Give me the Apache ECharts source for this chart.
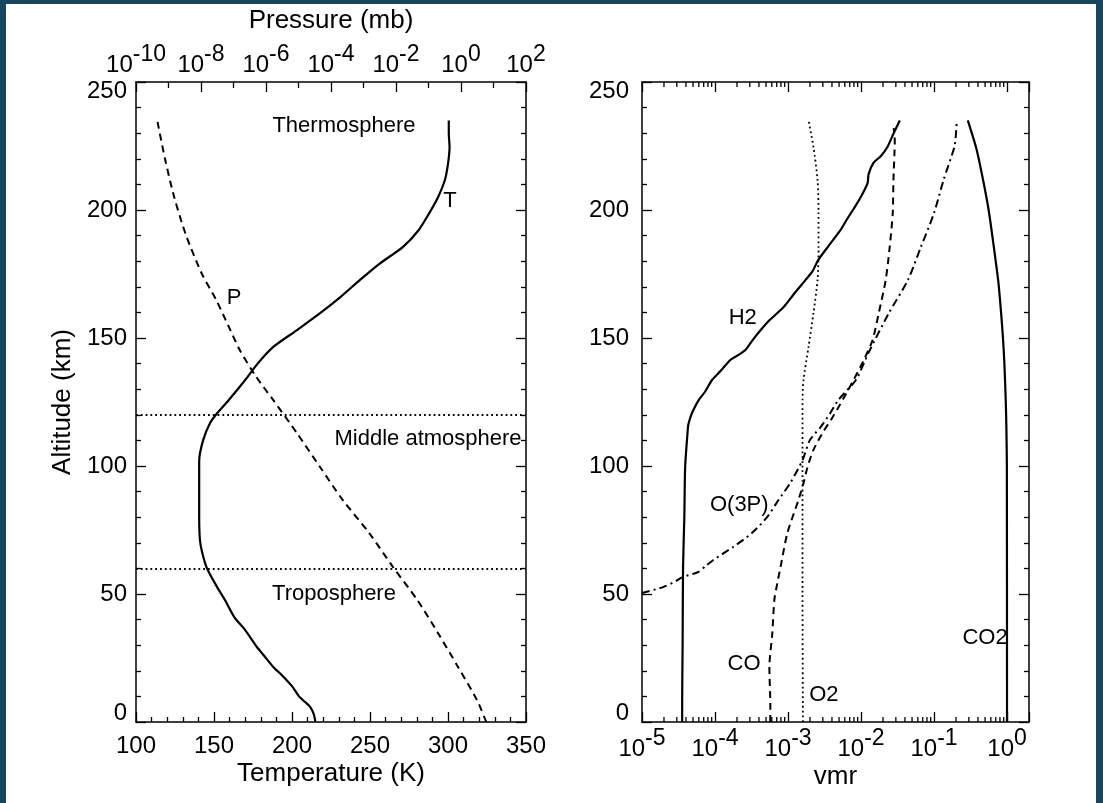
<!DOCTYPE html>
<html>
<head>
<meta charset="utf-8">
<script src="https://cdn.jsdelivr.net/npm/echarts@6/dist/echarts.min.js"></script>
<style>
html,body{margin:0;padding:0;width:1103px;height:803px;overflow:hidden;background:#17475e}
#paper{position:absolute;left:6px;top:4px;width:1090px;height:799px;background:#ffffff}
#chart{position:absolute;left:0;top:0;width:1103px;height:803px}
</style>
</head>
<body>
<div id="paper"></div>
<div id="chart"></div>
<script>
// ---------------- DATA ----------------
// Left panel: temperature profile (K) vs altitude (km)
const tempAlt = [0, 3, 6, 8, 10, 14, 18, 21.5, 26, 29.3, 35.9, 41, 47.7, 52.7, 60, 66, 71, 80, 90, 102, 110, 116.7, 120.6, 125.8, 133.6, 140, 146.5, 153, 159.7, 166, 172.7, 179, 185.5, 192, 198.8, 205, 211.7, 218, 224.6, 230, 235];
const tempK   = [215, 214, 211.5, 208, 204.5, 200, 194, 188, 182, 177.5, 170, 163, 157, 152, 145.5, 142.5, 141, 140.5, 140.5, 140.5, 143, 147.4, 152, 159.5, 170, 178, 188, 203, 218, 231, 243.6, 256, 271, 281, 288, 293.6, 298, 300, 301, 300.5, 300.5];

// Left panel: pressure profile (mb) vs altitude (km)
const pressAlt = [0, 8.6, 21.5, 34.8, 47.7, 60.5, 73.8, 86.7, 99.6, 112.9, 125.8, 135, 145, 155, 165, 175, 190, 205, 220, 235];
const pressMb  = [6.0, 3.1, 0.81, 0.195, 0.045, 8.1e-3, 1.5e-3, 2.3e-4, 4.6e-5, 8.9e-6, 1.66e-6, 4.9e-7, 1.6e-7, 6.8e-8, 2.9e-8, 1.07e-8, 3.5e-9, 1.5e-9, 7.8e-10, 4.5e-10];

// Atmospheric layer boundaries (km)
const layerBounds = [60, 120];

// Right panel: volume mixing ratios vs altitude (km)
const h2Alt = [0, 8.6, 30, 60.5, 80, 99.6, 112.9, 116, 119, 121.6, 125.8, 129, 133.6, 137, 141.4, 143, 145.3, 149, 153, 157, 162, 167, 172.7, 176, 180.5, 186, 192, 196, 200.4, 205, 210.5, 214, 218.4, 221, 224.6, 230, 235];
const h2Vmr = [3.55e-5, 3.55e-5, 3.6e-5, 3.65e-5, 3.8e-5, 3.9e-5, 4.2e-5, 4.3e-5, 4.6e-5, 5.0e-5, 6.0e-5, 7.3e-5, 9.1e-5, 1.18e-4, 1.62e-4, 2.0e-4, 2.6e-4, 3.24e-4, 4.2e-4, 5.6e-4, 8.65e-4, 1.19e-3, 1.74e-3, 2.16e-3, 2.6e-3, 3.6e-3, 5.2e-3, 6.3e-3, 7.9e-3, 9.9e-3, 1.23e-2, 1.27e-2, 1.48e-2, 1.86e-2, 2.3e-2, 2.8e-2, 3.4e-2];

const co2Alt = [0, 100, 115, 125.8, 140, 150, 159.7, 172, 185.5, 200, 211.7, 224, 235];
const co2Vmr = [1.0, 0.995, 0.98, 0.96, 0.92, 0.88, 0.83, 0.76, 0.66, 0.56, 0.47, 0.38, 0.29];

const o2Alt = [0, 50, 100, 125.8, 133.6, 146.5, 159.7, 172.7, 185.5, 198.8, 211.7, 224.6, 235];
const o2Vmr = [1.6e-3, 1.58e-3, 1.58e-3, 1.58e-3, 1.63e-3, 1.91e-3, 2.23e-3, 2.54e-3, 2.62e-3, 2.62e-3, 2.54e-3, 2.23e-3, 1.91e-3];

const coAlt = [0, 5.9, 21.5, 34.8, 47.7, 54.3, 60.5, 73.8, 86.7, 93.3, 99.6, 106.3, 112.9, 119, 125.8, 133.6, 141.4, 149.2, 159.7, 172.7, 185.5, 198.8, 211.7, 227.3, 232];
const coVmr = [5.7e-4, 5.73e-4, 5.56e-4, 6.1e-4, 6.5e-4, 7.15e-4, 7.9e-4, 9.8e-4, 1.39e-3, 1.63e-3, 1.85e-3, 2.23e-3, 2.97e-3, 4.07e-3, 5.6e-3, 7.9e-3, 1.09e-2, 1.44e-2, 1.75e-2, 2.18e-2, 2.47e-2, 2.72e-2, 2.78e-2, 2.9e-2, 2.8e-2];

const o3pAlt = [50.4, 52.7, 55, 56.6, 58.6, 61, 63.3, 68.4, 73.8, 80.1, 86.7, 93.3, 102.3, 110.2, 115.2, 120.7, 125.8, 133.6, 144.1, 159.7, 172.7, 185.5, 198.8, 211.7, 224.6, 230, 235];
const o3pVmr = [1.0e-5, 1.95e-5, 2.9e-5, 3.6e-5, 5.9e-5, 7.5e-5, 9.5e-5, 1.78e-4, 3.2e-4, 5.2e-4, 7.4e-4, 1.07e-3, 1.58e-3, 2.0e-3, 2.8e-3, 3.8e-3, 4.9e-3, 8.5e-3, 1.26e-2, 2.4e-2, 4.4e-2, 6.6e-2, 0.1, 0.135, 0.19, 0.2, 0.205];

// Axis ranges / ticks
const altRange = [0, 250];
const tempRange = [100, 350];
const pressRange = [1e-10, 1e2];
const vmrRange = [1e-5, 2];
const pressOddDecades = [1e-9, 1e-7, 1e-5, 1e-3, 1e-1, 1e1];
const vmrMinorTicks = [];
for (let e = -5; e <= -1; e++) for (let m = 2; m <= 9; m++) vmrMinorTicks.push(m * Math.pow(10, e));

// ---------------- CHART ----------------
const FONT = '"Liberation Sans", Arial, Helvetica, sans-serif';
const zip = (xs, ys) => xs.map((x, i) => [x, ys[i]]);

function pow10Label(v) {
  const e = Math.log10(v);
  const n = Math.round(e);
  if (Math.abs(e - n) > 1e-6) return '';
  return '{b|10}{s|' + n + '}';
}
const richSup = {
  b: { fontSize: 24, lineHeight: 26, verticalAlign: 'bottom', fontFamily: FONT, color: '#000' },
  s: { fontSize: 23, lineHeight: 20, padding: [0, 0, 11, 0], verticalAlign: 'bottom', fontFamily: FONT, color: '#000' }
};

const axLine = { show: true, onZero: false, lineStyle: { color: '#000', width: 1.5 } };
const tickMajor = { show: true, inside: true, length: 10, lineStyle: { color: '#000', width: 1.3 } };
const minor5 = { show: true, splitNumber: 5, length: 5, lineStyle: { color: '#000', width: 1.3 } };
const noSplit = { show: false };
const labelStyle = { fontSize: 24, color: '#000', fontFamily: FONT };
const nameStyle = { fontSize: 26, color: '#000', fontFamily: FONT };
const annStyle = { fontSize: 22, color: '#000', fontFamily: FONT };
const yLabelStyle = Object.assign({ lineHeight: 18, verticalAlignMinLabel: 'bottom', verticalAlignMaxLabel: 'top' }, labelStyle);

function annotations(items) {
  return {
    silent: true,
    symbol: 'circle',
    symbolSize: 1,
    itemStyle: { color: 'rgba(0,0,0,0)' },
    label: Object.assign({ show: true, position: 'inside', formatter: '{b}' }, annStyle),
    data: items.map(it => ({ name: it[0], coord: [it[1], it[2]] }))
  };
}

function tickRenderer(sides, len) {
  return function (params, api) {
    const v = api.value(0);
    const children = [];
    if (sides.indexOf('bottom') >= 0) {
      const p = api.coord([v, altRange[0]]);
      children.push({ type: 'line', shape: { x1: p[0], y1: p[1], x2: p[0], y2: p[1] - len }, style: { stroke: '#000', lineWidth: 1.3 } });
    }
    if (sides.indexOf('top') >= 0) {
      const p = api.coord([v, altRange[1]]);
      children.push({ type: 'line', shape: { x1: p[0], y1: p[1], x2: p[0], y2: p[1] + len }, style: { stroke: '#000', lineWidth: 1.3 } });
    }
    return { type: 'group', children: children };
  };
}

function lineSeries(name, xi, yi, data, type, width) {
  return {
    name: name, type: 'line', xAxisIndex: xi, yAxisIndex: yi,
    data: data, showSymbol: false, symbol: 'none', smooth: 0.25,
    clip: true, silent: true,
    lineStyle: { color: '#000', width: width, type: type }
  };
}

const chart = echarts.init(document.getElementById('chart'), null, { renderer: 'canvas' });

const option = {
  animation: false,
  backgroundColor: 'transparent',
  textStyle: { fontFamily: FONT },
  grid: [
    { left: 136, top: 82, width: 390, height: 640, containLabel: false, outerBoundsMode: 'none' },
    { left: 642, top: 82, width: 387, height: 640, containLabel: false, outerBoundsMode: 'none' }
  ],
  xAxis: [
    {
      gridIndex: 0, type: 'value', position: 'bottom', min: tempRange[0], max: tempRange[1], interval: 50,
      axisLine: axLine, axisTick: tickMajor, minorTick: minor5, splitLine: noSplit, minorSplitLine: noSplit,
      axisLabel: Object.assign({ margin: 12 }, labelStyle),
      name: 'Temperature (K)', nameLocation: 'middle', nameGap: 39, nameTextStyle: nameStyle, nameMoveOverlap: false
    },
    {
      gridIndex: 0, type: 'log', logBase: 10, position: 'top', min: pressRange[0], max: pressRange[1], interval: 2,
      axisLine: axLine, axisTick: tickMajor, splitLine: noSplit,
      axisLabel: { margin: 5, formatter: pow10Label, rich: richSup },
      name: 'Pressure (mb)', nameLocation: 'middle', nameGap: 48, nameTextStyle: nameStyle, nameMoveOverlap: false
    },
    {
      gridIndex: 1, type: 'log', logBase: 10, position: 'bottom', min: vmrRange[0], max: vmrRange[1], interval: 1,
      axisLine: axLine, axisTick: tickMajor, splitLine: noSplit,
      axisLabel: { margin: 13, formatter: pow10Label, rich: richSup },
      name: 'vmr', nameLocation: 'middle', nameGap: 42, nameTextStyle: nameStyle, nameMoveOverlap: false
    },
    {
      gridIndex: 1, type: 'log', logBase: 10, position: 'top', min: vmrRange[0], max: vmrRange[1], interval: 1,
      axisLine: axLine, axisTick: tickMajor, splitLine: noSplit, axisLabel: { show: false }
    }
  ],
  yAxis: [
    {
      gridIndex: 0, type: 'value', position: 'left', min: altRange[0], max: altRange[1], interval: 50,
      axisLine: axLine, axisTick: tickMajor, minorTick: minor5, splitLine: noSplit, minorSplitLine: noSplit,
      axisLabel: Object.assign({ margin: 9 }, yLabelStyle),
      name: 'Altitude (km)', nameLocation: 'middle', nameGap: 60, nameTextStyle: nameStyle, nameMoveOverlap: false
    },
    {
      gridIndex: 0, type: 'value', position: 'right', min: altRange[0], max: altRange[1], interval: 50,
      axisLine: axLine, axisTick: tickMajor, minorTick: minor5, splitLine: noSplit, minorSplitLine: noSplit,
      axisLabel: { show: false }
    },
    {
      gridIndex: 1, type: 'value', position: 'left', min: altRange[0], max: altRange[1], interval: 50,
      axisLine: axLine, axisTick: tickMajor, minorTick: minor5, splitLine: noSplit, minorSplitLine: noSplit,
      axisLabel: Object.assign({ margin: 13 }, yLabelStyle)
    },
    {
      gridIndex: 1, type: 'value', position: 'right', min: altRange[0], max: altRange[1], interval: 50,
      axisLine: axLine, axisTick: tickMajor, minorTick: minor5, splitLine: noSplit, minorSplitLine: noSplit,
      axisLabel: { show: false }
    }
  ],
  series: [
    Object.assign(lineSeries('T', 0, 0, zip(tempK, tempAlt), 'solid', 2.2), {
      markLine: {
        silent: true, symbol: ['none', 'none'], label: { show: false },
        lineStyle: { color: '#000', width: 1.8, type: [1.8, 3] },
        data: layerBounds.map(v => ({ yAxis: v }))
      },
      markPoint: annotations([
        ['Thermosphere', 233.3, 232.8],
        ['T', 301.3, 203.5],
        ['P', 162.8, 165.6],
        ['Middle atmosphere', 287.2, 110.5],
        ['Troposphere', 226.9, 50]
      ])
    }),
    lineSeries('P', 1, 0, zip(pressMb, pressAlt), [7, 5], 2),
    {
      type: 'custom', xAxisIndex: 1, yAxisIndex: 0, silent: true,
      renderItem: tickRenderer(['top'], 6),
      data: pressOddDecades.map(v => [v, altRange[1]])
    },
    Object.assign(lineSeries('H2', 2, 2, zip(h2Vmr, h2Alt), 'solid', 2.2), {
      markPoint: annotations([
        ['H2', 2.4e-4, 157.8],
        ['O(3P)', 2.15e-4, 84.8],
        ['CO', 2.5e-4, 22.7],
        ['O2', 3.1e-3, 10.5],
        ['CO2', 0.5, 32.8]
      ])
    }),
    lineSeries('CO2', 2, 2, zip(co2Vmr, co2Alt), 'solid', 2.2),
    lineSeries('O2', 2, 2, zip(o2Vmr, o2Alt), [1.8, 3], 1.8),
    lineSeries('CO', 2, 2, zip(coVmr, coAlt), [7, 5], 2),
    lineSeries('O(3P)', 2, 2, zip(o3pVmr, o3pAlt), [8, 4, 2, 4], 2),
    {
      type: 'custom', xAxisIndex: 2, yAxisIndex: 2, silent: true,
      renderItem: tickRenderer(['top', 'bottom'], 5),
      data: vmrMinorTicks.map(v => [v, altRange[0]])
    }
  ]
};
chart.setOption(option);
</script>
</body>
</html>
